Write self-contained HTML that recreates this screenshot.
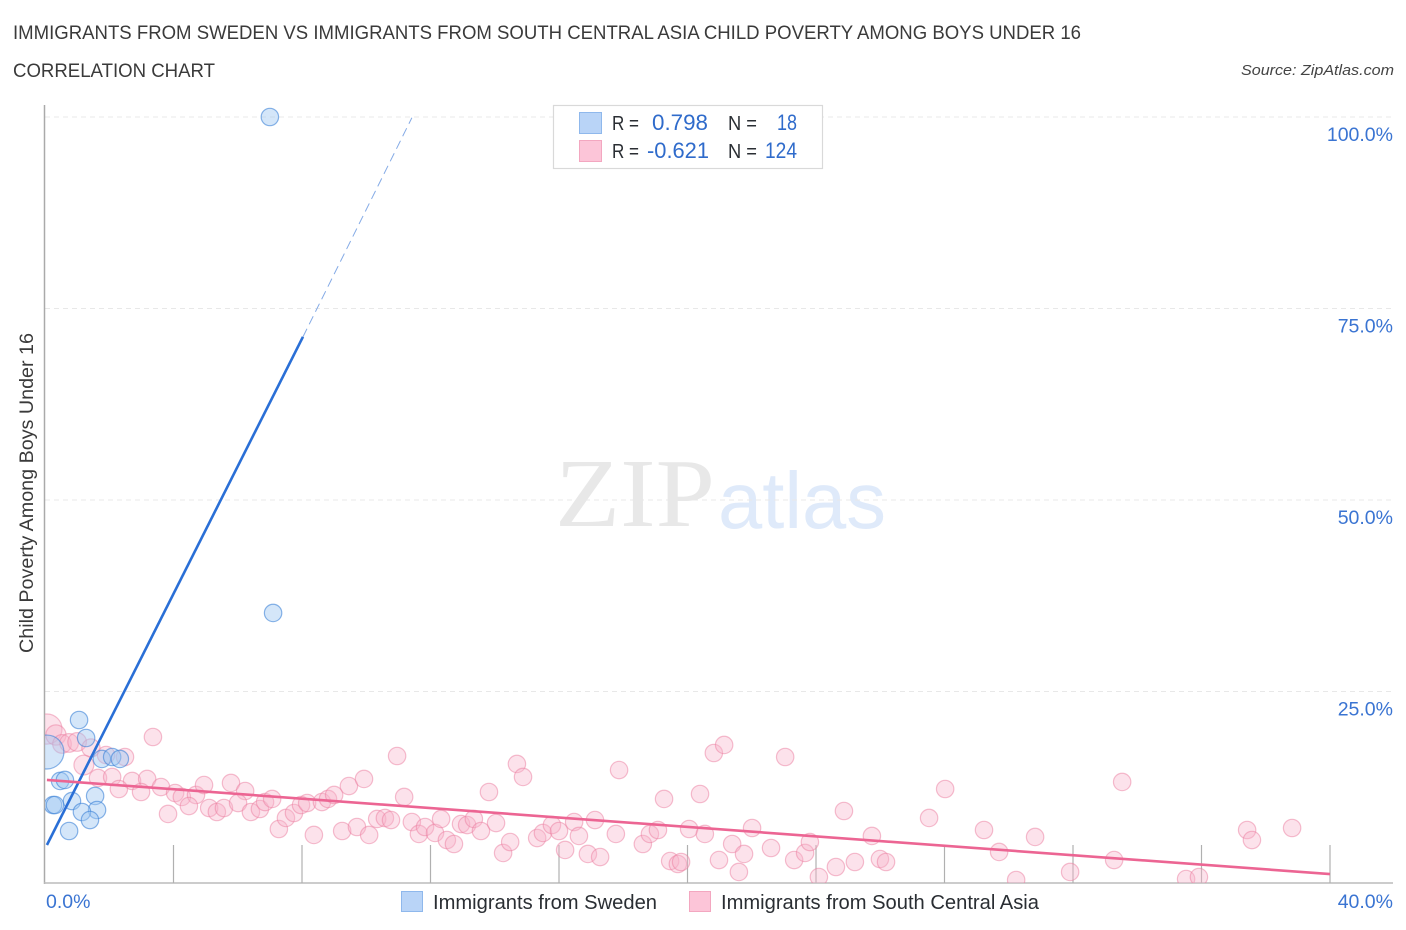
<!DOCTYPE html>
<html lang="en">
<head>
<meta charset="utf-8">
<title>Immigrants from Sweden vs Immigrants from South Central Asia Child Poverty Among Boys Under 16</title>
<style>
html,body{margin:0;padding:0;background:#fff;width:1406px;height:930px;overflow:hidden}
svg{display:block}
text{font-family:"Liberation Sans",sans-serif}
.blue{fill:#2f6bcb}
.dark{fill:#2a2e33}
</style>
</head>
<body>
<svg id="chart" width="1406" height="930" viewBox="0 0 1406 930" xmlns="http://www.w3.org/2000/svg">
  <defs>
    <clipPath id="plot-clip"><rect x="45" y="100" width="1350" height="783"/></clipPath>
  </defs>
  <rect width="1406" height="930" fill="#fff"/>

  <text x="13" y="39" font-size="19" fill="#3a3a3a" textLength="1068" lengthAdjust="spacingAndGlyphs">IMMIGRANTS FROM SWEDEN VS IMMIGRANTS FROM SOUTH CENTRAL ASIA CHILD POVERTY AMONG BOYS UNDER 16</text>
  <text x="13" y="77" font-size="19" fill="#3a3a3a" textLength="202" lengthAdjust="spacingAndGlyphs">CORRELATION CHART</text>
  <text x="1241" y="75" font-size="15" font-style="italic" fill="#444" textLength="153" lengthAdjust="spacingAndGlyphs">Source: ZipAtlas.com</text>

  <g id="watermark">
    <text x="555" y="526" font-size="98" style="font-family:'Liberation Serif',serif" fill="#e8e8e8" textLength="160" lengthAdjust="spacingAndGlyphs">ZIP</text>
    <text x="718" y="528" font-size="80" fill="#dfeafa" textLength="168" lengthAdjust="spacingAndGlyphs">atlas</text>
  </g>

  <g id="grid"></g>
  <g id="axes"></g>
  <g id="points" clip-path="url(#plot-clip)"></g>
  <g id="trends"></g>
  <g id="tick-labels"></g>

  <text transform="translate(33,653) rotate(-90)" x="0" y="0" font-size="19" fill="#3a3a3a" textLength="320" lengthAdjust="spacingAndGlyphs">Child Poverty Among Boys Under 16</text>

  <g>
    <rect x="553.5" y="105.5" width="269" height="63" fill="#fff" stroke="#d9d9d9" stroke-width="1.2"/>
    <rect x="579.5" y="112.5" width="22" height="21" fill="#b9d4f7" stroke="#8fb8ec" stroke-width="1"/>
    <rect x="579.5" y="140.5" width="22" height="21" fill="#fcc5d8" stroke="#f3a7c0" stroke-width="1"/>
    <text class="dark" x="612" y="130" font-size="20" textLength="27" lengthAdjust="spacingAndGlyphs">R =</text>
    <text class="blue" x="652" y="130" font-size="22" textLength="56" lengthAdjust="spacingAndGlyphs">0.798</text>
    <text class="dark" x="728" y="130" font-size="20" textLength="29" lengthAdjust="spacingAndGlyphs">N =</text>
    <text class="blue" x="777" y="130" font-size="22" textLength="20" lengthAdjust="spacingAndGlyphs">18</text>
    <text class="dark" x="612" y="158" font-size="20" textLength="27" lengthAdjust="spacingAndGlyphs">R =</text>
    <text class="blue" x="647" y="158" font-size="22" textLength="62" lengthAdjust="spacingAndGlyphs">-0.621</text>
    <text class="dark" x="728" y="158" font-size="20" textLength="29" lengthAdjust="spacingAndGlyphs">N =</text>
    <text class="blue" x="765" y="158" font-size="22" textLength="32" lengthAdjust="spacingAndGlyphs">124</text>
  </g>

  <g>
    <rect x="401.5" y="891.5" width="21" height="20" fill="#b9d4f7" stroke="#8fb8ec" stroke-width="1"/>
    <text class="dark" x="433" y="909" font-size="20" textLength="224" lengthAdjust="spacingAndGlyphs">Immigrants from Sweden</text>
    <rect x="689.5" y="891.5" width="21" height="20" fill="#fcc5d8" stroke="#f3a7c0" stroke-width="1"/>
    <text class="dark" x="721" y="909" font-size="20" textLength="318" lengthAdjust="spacingAndGlyphs">Immigrants from South Central Asia</text>
  </g>
</svg>

<script>
// ---- chart data (percent values) ----
const yTicks = [25, 50, 75, 100];
const yTickLabels = ["25.0%", "50.0%", "75.0%", "100.0%"];
const xTicks = [4, 8, 12, 16, 20, 24, 28, 32, 36, 40];
const xEndLabels = ["0.0%", "40.0%"];

const swedenX = [1.06,1.28,1.77,2.09,2.33,0.47,0.62,1.56,0.84,0.25,0.31,1.62,1.15,1.40,0.75,0.06,7.00,7.10];
const swedenY = [21.28,18.93,16.19,16.45,16.19,13.32,13.45,11.36,10.70,10.18,10.18,9.53,9.27,8.22,6.79,17.10,100,35.25];
const swedenWeight = [1,1,1,1,1,1,1,1,1,1,1,1,1,1,1,3.8,1,1];

const asiaX = [0.06,0.34,0.53,0.75,1.00,1.43,1.21,1.90,2.49,3.36,1.65,2.09,2.71,3.18,2.30,2.99,3.61,4.05,4.26,4.70,4.95,3.83,4.48,5.11,5.35,5.57,5.79,6.23,6.01,6.41,6.69,6.85,7.07,7.28,7.50,7.75,7.97,8.16,8.37,8.62,8.81,9.00,9.25,9.46,9.93,10.96,11.18,9.71,10.09,10.34,10.58,10.77,11.42,11.64,11.83,12.14,12.33,12.51,12.73,12.95,13.14,13.35,13.57,14.04,14.26,14.48,13.82,14.69,14.88,15.32,15.50,15.78,16.00,16.19,16.47,16.62,16.90,17.28,17.12,17.77,17.87,18.61,18.83,19.08,19.27,19.46,19.70,19.80,20.05,20.39,20.54,20.82,21.14,23.04,22.01,21.39,21.76,20.98,21.60,22.60,23.32,23.66,23.81,24.09,24.62,25.21,24.87,25.74,25.99,26.18,27.52,28.02,29.23,29.70,30.82,30.23,31.91,33.53,33.28,35.52,35.92,37.42,37.57,38.82];
const asiaY = [20.10,19.32,18.15,18.28,18.41,17.62,15.40,16.71,16.45,19.06,13.71,13.84,13.32,13.58,12.27,11.88,12.53,11.75,11.23,11.49,12.79,9.01,10.05,9.79,9.27,9.79,13.06,12.01,10.44,9.27,9.66,10.57,10.97,7.05,8.49,9.14,10.18,10.44,6.27,10.57,10.97,11.49,6.79,12.66,13.58,16.58,11.23,7.31,6.27,8.36,8.49,8.22,7.96,6.40,7.31,6.53,8.36,5.61,5.09,7.70,7.57,8.36,6.79,7.83,3.92,5.35,11.88,15.54,13.84,5.87,6.53,7.57,6.79,4.31,7.96,6.14,3.79,3.39,8.22,6.40,14.75,5.09,6.40,6.92,10.97,2.87,2.48,2.74,7.05,11.62,6.40,16.97,18.02,16.45,7.18,5.09,3.79,3.00,1.44,4.57,3.00,3.92,5.35,0.78,2.09,2.74,9.40,6.14,3.13,2.74,8.49,12.27,6.92,4.05,6.01,0.39,1.44,13.19,3.00,0.52,0.78,6.92,5.61,7.18];
const asiaWeight = [3,1.35,1.15,1.15,1.15,1.1,1.3];

const swedenTrendX = [0.06, 8.03];
const swedenTrendY = [4.96, 71.3];
const swedenDashX = [8.03, 11.42];
const swedenDashY = [71.3, 99.9];
const asiaTrendX = [0.06, 40];
const asiaTrendY = [13.45, 1.17];

// ---- axis functions ----
const xMax = 40, yMax = 100;
function sx(v){ return 45 + v / xMax * 1285; }
function sy(v){ return 883 - v / yMax * 766; }

const NS = "http://www.w3.org/2000/svg";
function make(tag, attrs, parent){
  const el = document.createElementNS(NS, tag);
  for (const k in attrs) el.setAttribute(k, attrs[k]);
  parent.appendChild(el);
  return el;
}

const grid = document.getElementById("grid");
const axes = document.getElementById("axes");
const points = document.getElementById("points");
const trends = document.getElementById("trends");
const tickLabels = document.getElementById("tick-labels");

yTicks.forEach(function(t, i){
  const line = make("line", {x1:45, x2:1393, y1:sy(t), y2:sy(t), stroke:"#e8e8e8", "stroke-width":1, "stroke-dasharray":"5 4"}, grid);
  
  
  const label = make("text", {x:1393, y:sy(t)+24, "font-size":19.5, "text-anchor":"end", fill:"#3a74d2"}, tickLabels);
  label.textContent = yTickLabels[i];
  
  
});

const yAxis = make("line", {x1:44.5, x2:44.5, y1:105, y2:884, stroke:"#aaa", "stroke-width":1.5}, axes);


const xAxis = make("line", {x1:44, x2:1393, y1:883, y2:883, stroke:"#bbb", "stroke-width":1.5}, axes);



xTicks.forEach(function(t){
  const tick = make("line", {x1:sx(t), x2:sx(t), y1:845, y2:883, stroke:"#b0b0b0", "stroke-width":1.2}, axes);
  
  
});

const xStart = make("text", {x:46, y:908, "font-size":19.5, fill:"#3a74d2"}, tickLabels);
xStart.textContent = xEndLabels[0];


const xEnd = make("text", {x:1393, y:908, "font-size":19.5, "text-anchor":"end", fill:"#3a74d2"}, tickLabels);
xEnd.textContent = xEndLabels[1];



const baseR = 8.7;
asiaX.forEach(function(x, i){
  const w = asiaWeight[i] || 1;
  const c = make("circle", {cx:sx(x), cy:sy(asiaY[i]), r:baseR*Math.sqrt(w), fill:"rgba(248,178,202,0.38)", stroke:"rgba(235,125,160,0.5)", "stroke-width":1.2}, points);
  
  
});
swedenX.forEach(function(x, i){
  const w = swedenWeight[i] || 1;
  const c = make("circle", {cx:sx(x), cy:sy(swedenY[i]), r:baseR*Math.sqrt(w), fill:"rgba(160,200,242,0.45)", stroke:"rgba(60,130,215,0.6)", "stroke-width":1.2}, points);
  
  
});

const blueLine = make("line", {x1:sx(swedenTrendX[0]), y1:sy(swedenTrendY[0]), x2:sx(swedenTrendX[1]), y2:sy(swedenTrendY[1]), stroke:"#2a6fd6", "stroke-width":2.6}, trends);


const blueDash = make("line", {x1:sx(swedenDashX[0]), y1:sy(swedenDashY[0]), x2:sx(swedenDashX[1]), y2:sy(swedenDashY[1]), stroke:"#85abe6", "stroke-width":1, "stroke-dasharray":"9 5"}, trends);


const pinkLine = make("line", {x1:sx(asiaTrendX[0]), y1:sy(asiaTrendY[0]), x2:sx(asiaTrendX[1]), y2:sy(asiaTrendY[1]), stroke:"#ec6593", "stroke-width":2.6}, trends);


</script>
</body>
</html>
